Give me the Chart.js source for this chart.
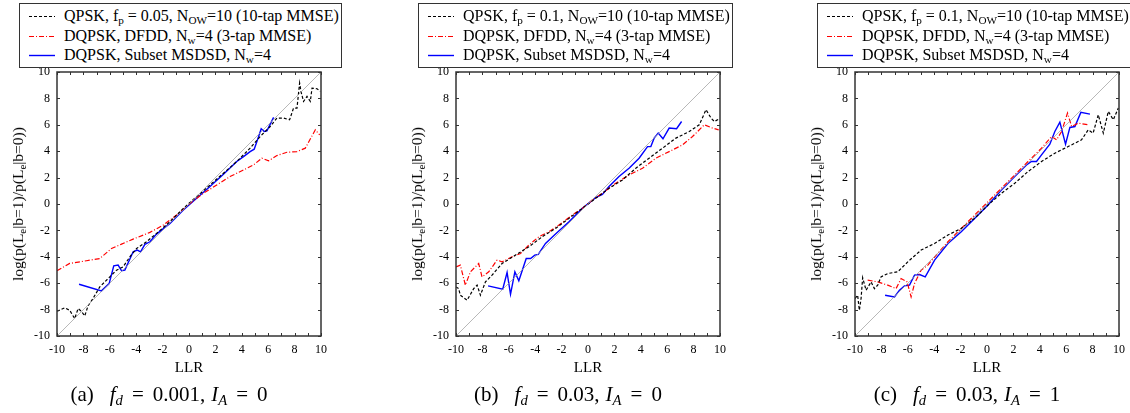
<!DOCTYPE html>
<html>
<head>
<meta charset="utf-8">
<script src="https://cdn.jsdelivr.net/npm/chart.js@4/dist/chart.umd.min.js"></script>
<style>
  body { margin: 0; width: 1130px; height: 413px; overflow: hidden; background: #fff; position: relative; font-family: "Liberation Serif", serif; }
  canvas { position: absolute; top: 0; }
  .legend { position: absolute; top: 3px; height: 65px; background: #fff; border: 1.3px solid #333; font-size: 16px; color: #000; z-index: 2; box-sizing: border-box; }
  .legend .row { position: absolute; left: 0; height: 20px; line-height: 20px; white-space: nowrap; }
  .legend svg { position: absolute; left: 9px; top: 9px; }
  .legend span.txt { position: absolute; left: 44px; top: 0; }
  sub { font-size: 70%; vertical-align: -0.25em; line-height: 0; }
  .ytitle { position: absolute; font-size: 15.5px; line-height: 16px; white-space: nowrap; transform: translate(-50%, -50%) rotate(-90deg); }
  .caption { position: absolute; top: 382px; font-size: 21px; white-space: nowrap; transform: translateX(-50%); }
  .caption .eq { margin: 0 9px; }
  .caption .lab { margin-right: 16px; }
  .caption .sep { margin-right: 6px; }
</style>
</head>
<body>
<script>
// panel (a)  fd = 0.001, IA = 0
const aQpsk = [[-10,-8.13],[-9.42,-7.87],[-9.04,-8.05],[-8.66,-8.68],[-8.4,-7.92],[-8.15,-8.13],[-7.9,-8.48],[-7.65,-7.72],[-7.27,-7.16],[-6.76,-6.28],[-6.38,-5.9],[-6.0,-5.52],[-5.49,-5.01],[-4.99,-4.76],[-4.48,-4.0],[-3.97,-3.37],[-3.22,-2.86],[-2.46,-2.23],[-1.44,-1.34],[-0.43,-0.33],[0.58,0.56],[1.59,1.44],[2.61,2.33],[3.62,3.22],[4.63,4.23],[5.39,5.11],[6.15,5.87],[6.66,6.51],[7.16,6.51],[7.62,6.38],[7.92,7.27],[8.18,7.27],[8.38,9.16],[8.48,8.53],[8.68,7.77],[8.94,8.15],[9.19,7.77],[9.32,8.78],[9.7,8.73],[9.95,8.53]];
const aDfdd = [[-10,-5.06],[-9.04,-4.5],[-7.77,-4.3],[-6.76,-4.13],[-5.87,-3.37],[-5.11,-3.04],[-4.23,-2.66],[-2.96,-2.15],[-1.95,-1.6],[-0.94,-0.84],[0.08,0.05],[1.09,0.81],[2.1,1.44],[3.11,2.08],[4.13,2.58],[4.89,2.96],[5.52,3.47],[6.03,3.27],[6.66,3.67],[7.42,3.92],[8.18,3.97],[8.81,4.23],[9.57,5.62],[9.9,5.24]];
const aMsdsd = [[-8.33,-6.08],[-6.63,-6.58],[-6.05,-6.03],[-5.7,-4.68],[-5.37,-4.63],[-5.11,-5.06],[-4.86,-5.01],[-4.23,-3.62],[-3.92,-3.49],[-3.67,-3.62],[-3.34,-3.06],[-2.96,-2.86],[-2.46,-2.28],[-1.44,-1.47],[-0.43,-0.46],[0.58,0.43],[1.59,1.32],[2.61,2.25],[3.62,3.22],[4.13,3.59],[4.63,3.97],[4.94,4.15],[5.19,4.86],[5.47,5.7],[5.7,5.49],[5.9,5.54],[6.41,6.56]];

// panel (b)  fd = 0.03, IA = 0
const bQpsk = [[-10,-6.28],[-9.8,-6.41],[-9.67,-6.91],[-9.16,-7.29],[-8.66,-6.41],[-8.4,-6.15],[-8.15,-6.91],[-7.77,-5.9],[-7.27,-5.39],[-6.51,-4.51],[-5.49,-3.87],[-4.48,-3.24],[-3.47,-2.48],[-2.46,-1.85],[-1.44,-1.09],[-0.43,-0.33],[0.58,0.43],[1.59,1.19],[2.61,1.82],[3.62,2.71],[4.63,3.47],[5.65,4.23],[6.66,4.99],[7.67,5.49],[8.43,6.0],[8.94,7.14],[9.32,6.51],[9.57,6.25],[9.95,6.46]];
const bDfdd = [[-10,-4.76],[-9.67,-4.63],[-9.29,-6.15],[-8.91,-5.14],[-8.28,-4.51],[-8.03,-5.52],[-7.52,-5.14],[-6.89,-4.25],[-6.51,-4.38],[-5.75,-4.0],[-5.11,-3.75],[-4.48,-3.11],[-3.72,-2.48],[-2.96,-2.1],[-2.2,-1.59],[-1.19,-0.84],[-0.43,-0.33],[0.33,0.3],[1.09,0.81],[2.1,1.57],[3.11,2.2],[4.13,2.71],[5.14,3.47],[6.15,3.97],[7.16,4.48],[7.92,5.11],[8.81,6.0],[9.44,5.75],[9.9,5.62]];
const bMsdsd = [[-7.57,-6.2],[-6.46,-6.46],[-6.13,-5.19],[-5.87,-6.84],[-5.54,-5.14],[-5.24,-5.82],[-4.68,-4.13],[-4.35,-4.13],[-4.03,-3.87],[-3.77,-3.82],[-3.22,-2.99],[-2.46,-2.28],[-1.44,-1.34],[-0.43,-0.33],[0.58,0.48],[1.09,0.73],[1.59,1.32],[2.35,2.08],[3.11,2.71],[3.87,3.47],[4.51,4.35],[4.76,4.35],[5.01,4.99],[5.32,5.37],[5.68,4.94],[6.15,5.75],[6.71,5.7],[7.09,6.25]];

// panel (c)  fd = 0.03, IA = 1
const cQpsk = [[-10,-7.16],[-9.8,-6.91],[-9.67,-8.05],[-9.54,-7.16],[-9.42,-5.59],[-9.16,-6.53],[-8.78,-5.9],[-8.53,-6.41],[-8.28,-6.15],[-8.03,-5.52],[-7.52,-5.27],[-6.76,-5.14],[-6.0,-4.38],[-4.99,-3.49],[-3.97,-2.99],[-2.96,-2.35],[-1.95,-1.85],[-0.94,-1.09],[0.08,-0.08],[1.09,0.81],[2.1,1.57],[3.11,2.46],[4.13,3.22],[5.14,3.85],[6.15,4.35],[7.16,4.86],[7.67,5.62],[8.04,5.37],[8.43,6.76],[8.81,5.37],[9.19,7.01],[9.57,6.38],[9.95,7.27]];
const cDfdd = [[-9.04,-5.77],[-8.28,-5.9],[-7.52,-6.15],[-6.89,-6.41],[-6.51,-5.65],[-6.05,-5.9],[-5.75,-7.04],[-5.49,-6.03],[-4.99,-5.01],[-4.48,-4.63],[-3.85,-3.87],[-2.96,-2.86],[-1.95,-1.85],[-0.94,-0.84],[0.08,0.18],[1.09,1.19],[2.1,2.2],[3.11,3.22],[4.13,4.23],[4.89,5.11],[5.27,4.86],[5.65,5.49],[6.1,6.89],[6.41,5.87],[6.91,6.13],[7.67,6.0]];
const cMsdsd = [[-7.72,-6.91],[-7.01,-7.04],[-6.63,-6.53],[-6.25,-6.2],[-5.87,-6.15],[-5.49,-5.39],[-5.11,-5.34],[-4.68,-5.52],[-3.97,-4.25],[-2.96,-2.99],[-1.95,-2.1],[-0.94,-1.09],[0.08,-0.08],[1.09,1.06],[2.1,2.08],[2.99,2.96],[3.37,3.22],[3.75,3.22],[4.13,3.72],[4.76,4.53],[5.14,5.49],[5.52,6.2],[5.95,4.53],[6.28,5.8],[6.66,5.87],[7.11,6.94],[7.8,6.81]];

const diagonal = [[-10,-10],[10,10]];
const axisMin = -10, axisMax = 10, labelStep = 2;

const legendA = ['QPSK, f<sub>p</sub> = 0.05, N<sub>OW</sub>=10 (10-tap MMSE)', 'DQPSK, DFDD, N<sub>w</sub>=4 (3-tap MMSE)', 'DQPSK, Subset MSDSD, N<sub>w</sub>=4'];
const legendBC = ['QPSK, f<sub>p</sub> = 0.1, N<sub>OW</sub>=10 (10-tap MMSE)', 'DQPSK, DFDD, N<sub>w</sub>=4 (3-tap MMSE)', 'DQPSK, Subset MSDSD, N<sub>w</sub>=4'];
const captions = [
    '<span class="lab">(a)</span><i>f<sub>d</sub></i><span class="eq">=</span><span class="sep">0.001,</span><i>I<sub>A</sub></i><span class="eq">=</span>0',
    '<span class="lab">(b)</span><i>f<sub>d</sub></i><span class="eq">=</span><span class="sep">0.03,</span><i>I<sub>A</sub></i><span class="eq">=</span>0',
    '<span class="lab">(c)</span><i>f<sub>d</sub></i><span class="eq">=</span><span class="sep">0.03,</span><i>I<sub>A</sub></i><span class="eq">=</span>1'
];
const yTitle = 'log(p(L<sub>e</sub>|b=1)/p(L<sub>e</sub>|b=0))';

const styles = [
    { color: '#000', width: 1.2, dash: [3, 2] },
    { color: '#f00', width: 1.2, dash: [5, 2, 1, 2] },
    { color: '#00f', width: 1.4, dash: [] }
];

const serif = '"Liberation Serif", "Times New Roman", serif';

function toPoints(arr) {
    return arr.map(p => ({ x: p[0], y: p[1] }));
}

// kader en tickjes naar binnen
const frameTicks = {
    id: 'frameTicks',
    afterDatasetsDraw(chart) {
        const { ctx, chartArea: a, scales: { x, y } } = chart;
        ctx.save();
        ctx.strokeStyle = '#333';
        ctx.lineWidth = 1;
        ctx.beginPath();
        for (let v = axisMin; v <= axisMax; v += 1) {
            const px = Math.round(x.getPixelForValue(v)) + 0.5;
            ctx.moveTo(px, a.bottom); ctx.lineTo(px, a.bottom - 3);
            ctx.moveTo(px, a.top); ctx.lineTo(px, a.top + 3);
        }
        for (let v = axisMin; v <= axisMax; v += labelStep) {
            const py = Math.round(y.getPixelForValue(v)) + 0.5;
            ctx.moveTo(a.left, py); ctx.lineTo(a.left + 3, py);
            ctx.moveTo(a.right, py); ctx.lineTo(a.right - 3, py);
        }
        ctx.stroke();
        ctx.lineWidth = 1.5;
        ctx.strokeRect(a.left, a.top, a.right - a.left, a.bottom - a.top);
        ctx.restore();
    }
};

function maakPaneel(left, series, legend, legendLeft, legendWidth, caption) {
    const canvas = document.createElement('canvas');
    canvas.width = 340; canvas.height = 413;
    canvas.style.left = left + 'px';
    document.body.appendChild(canvas);

    const datasets = [{
        data: toPoints(diagonal), borderColor: '#999', borderWidth: 0.7, pointRadius: 0
    }];
    series.forEach((s, i) => {
        datasets.push({
            data: toPoints(s), borderColor: styles[i].color, borderWidth: styles[i].width,
            borderDash: styles[i].dash, pointRadius: 0, tension: 0
        });
    });

    const tickFont = { family: serif, size: 12 };
    new Chart(canvas.getContext('2d'), {
        type: 'line',
        data: { datasets: datasets },
        options: {
            responsive: false, animation: false,
            layout: { padding: { left: 0, right: 19, top: 72, bottom: 0 } },
            plugins: { legend: { display: false }, tooltip: { enabled: false } },
            scales: {
                x: {
                    type: 'linear', min: axisMin, max: axisMax,
                    grid: { display: false, drawTicks: false }, border: { display: false },
                    ticks: { stepSize: labelStep, padding: 7, color: '#000', font: tickFont, maxRotation: 0 },
                    title: { display: true, text: 'LLR', color: '#000', font: { family: serif, size: 15 }, padding: { top: 0, bottom: 36 } },
                    afterFit: s => { s.height = 77; }
                },
                y: {
                    min: axisMin, max: axisMax,
                    grid: { display: false, drawTicks: false }, border: { display: false },
                    ticks: { stepSize: labelStep, padding: 7, color: '#000', font: tickFont },
                    afterFit: s => { s.width = 57; }
                }
            }
        },
        plugins: [frameTicks]
    });

    // legenda
    const box = document.createElement('div');
    box.className = 'legend';
    box.style.left = legendLeft + 'px';
    box.style.width = legendWidth + 'px';
    legend.forEach((txt, i) => {
        const row = document.createElement('div');
        row.className = 'row';
        row.style.top = (2 + i * 19.5) + 'px';
        const dash = styles[i].dash.length ? ' stroke-dasharray="' + styles[i].dash.join(' ') + '"' : '';
        row.innerHTML = '<svg width="26" height="3"><line x1="0" y1="1.5" x2="26" y2="1.5" stroke="' + styles[i].color +
            '" stroke-width="' + styles[i].width + '"' + dash + '/></svg><span class="txt">' + txt + '</span>';
        box.appendChild(row);
    });
    document.body.appendChild(box);

    const yt = document.createElement('div');
    yt.className = 'ytitle';
    yt.style.left = (left + 18) + 'px';
    yt.style.top = '204px';
    yt.innerHTML = yTitle;
    document.body.appendChild(yt);

    const cap = document.createElement('div');
    cap.className = 'caption';
    cap.style.left = (left + 169) + 'px';
    cap.innerHTML = caption;
    document.body.appendChild(cap);
}

window.onload = async function() {
    try {
        await document.fonts.load('12px "Liberation Serif"');
        await document.fonts.load('italic 20px "Liberation Serif"');
    } catch (e) {
        console.log('font laden mislukt', e);
    }
    maakPaneel(0, [aQpsk, aDfdd, aMsdsd], legendA, 19, 323, captions[0]);
    maakPaneel(399, [bQpsk, bDfdd, bMsdsd], legendBC, 418, 315, captions[1]);
    maakPaneel(798, [cQpsk, cDfdd, cMsdsd], legendBC, 817, 320, captions[2]);
};
</script>
</body>
</html>
